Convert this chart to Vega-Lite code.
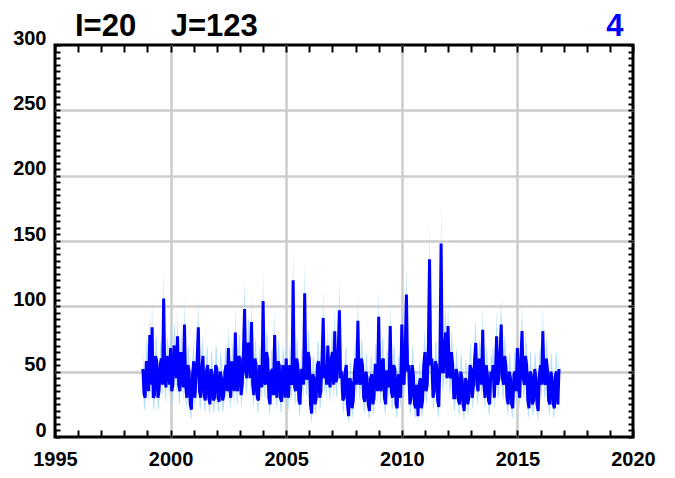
{
  "$schema": "https://vega.github.io/schema/vega-lite/v6.json",
  "width": 578,
  "height": 392,
  "autosize": {"type": "none"},
  "padding": {"left": 55, "top": 45, "right": 42, "bottom": 41},
  "background": "white",
  "config": {
    "view": {"stroke": "black", "strokeWidth": 3},
    "font": "Liberation Sans"
  },
  "title": {
    "text": "I=20\u00a0\u00a0\u00a0\u00a0J=123",
    "anchor": "start",
    "frame": "group",
    "dx": 20,
    "offset": -57,
    "baseline": "alphabetic",
    "fontSize": 31,
    "font": "Liberation Sans",
    "fontWeight": "bold",
    "color": "black"
  },
  "data": {
    "values": [
      {"t":1998.8,"v":52,"lo":38,"hi":68},{"t":1998.85,"v":33,"lo":22,"hi":46},{"t":1998.9,"v":30,"lo":20,"hi":43},{"t":1998.95,"v":58,"lo":42,"hi":75},
      {"t":1999.0,"v":55,"lo":40,"hi":71},{"t":1999.05,"v":35,"lo":24,"hi":48},{"t":1999.1,"v":78,"lo":58,"hi":98},{"t":1999.15,"v":40,"lo":28,"hi":54},{"t":1999.2,"v":84,"lo":63,"hi":105},{"t":1999.25,"v":30,"lo":20,"hi":43},{"t":1999.3,"v":32,"lo":22,"hi":45},{"t":1999.35,"v":62,"lo":46,"hi":79},{"t":1999.4,"v":58,"lo":42,"hi":75},{"t":1999.45,"v":30,"lo":20,"hi":43},{"t":1999.5,"v":35,"lo":24,"hi":48},{"t":1999.55,"v":55,"lo":40,"hi":71},{"t":1999.6,"v":60,"lo":44,"hi":77},{"t":1999.65,"v":40,"lo":28,"hi":54},{"t":1999.7,"v":106,"lo":81,"hi":130},{"t":1999.75,"v":45,"lo":32,"hi":60},{"t":1999.8,"v":38,"lo":26,"hi":52},{"t":1999.85,"v":62,"lo":46,"hi":79},{"t":1999.9,"v":55,"lo":40,"hi":71},{"t":1999.95,"v":40,"lo":28,"hi":54},
      {"t":2000.0,"v":68,"lo":50,"hi":86},{"t":2000.05,"v":35,"lo":24,"hi":48},{"t":2000.1,"v":40,"lo":28,"hi":54},{"t":2000.15,"v":70,"lo":52,"hi":89},{"t":2000.2,"v":62,"lo":46,"hi":79},{"t":2000.25,"v":45,"lo":32,"hi":60},{"t":2000.3,"v":77,"lo":58,"hi":97},{"t":2000.35,"v":40,"lo":28,"hi":54},{"t":2000.4,"v":35,"lo":24,"hi":48},{"t":2000.45,"v":65,"lo":48,"hi":83},{"t":2000.5,"v":55,"lo":40,"hi":71},{"t":2000.55,"v":38,"lo":26,"hi":52},{"t":2000.6,"v":86,"lo":65,"hi":107},{"t":2000.65,"v":40,"lo":28,"hi":54},{"t":2000.7,"v":30,"lo":20,"hi":43},{"t":2000.75,"v":55,"lo":40,"hi":71},{"t":2000.8,"v":50,"lo":36,"hi":66},{"t":2000.85,"v":25,"lo":16,"hi":37},{"t":2000.9,"v":21,"lo":13,"hi":32},{"t":2000.95,"v":48,"lo":34,"hi":63},
      {"t":2001.0,"v":58,"lo":42,"hi":75},{"t":2001.05,"v":30,"lo":20,"hi":43},{"t":2001.1,"v":45,"lo":32,"hi":60},{"t":2001.15,"v":60,"lo":44,"hi":77},{"t":2001.2,"v":84,"lo":63,"hi":105},{"t":2001.25,"v":35,"lo":24,"hi":48},{"t":2001.3,"v":30,"lo":20,"hi":43},{"t":2001.35,"v":52,"lo":38,"hi":68},{"t":2001.4,"v":62,"lo":46,"hi":79},{"t":2001.45,"v":32,"lo":22,"hi":45},{"t":2001.5,"v":28,"lo":18,"hi":40},{"t":2001.55,"v":50,"lo":36,"hi":66},{"t":2001.6,"v":55,"lo":40,"hi":71},{"t":2001.65,"v":30,"lo":20,"hi":43},{"t":2001.7,"v":25,"lo":16,"hi":37},{"t":2001.75,"v":52,"lo":38,"hi":68},{"t":2001.8,"v":48,"lo":34,"hi":63},{"t":2001.85,"v":28,"lo":18,"hi":40},{"t":2001.9,"v":30,"lo":20,"hi":43},{"t":2001.95,"v":55,"lo":40,"hi":71},
      {"t":2002.0,"v":52,"lo":38,"hi":68},{"t":2002.05,"v":30,"lo":20,"hi":43},{"t":2002.1,"v":27,"lo":18,"hi":39},{"t":2002.15,"v":50,"lo":36,"hi":66},{"t":2002.2,"v":45,"lo":32,"hi":60},{"t":2002.25,"v":28,"lo":18,"hi":40},{"t":2002.3,"v":32,"lo":22,"hi":45},{"t":2002.35,"v":50,"lo":36,"hi":66},{"t":2002.4,"v":55,"lo":40,"hi":71},{"t":2002.45,"v":35,"lo":24,"hi":48},{"t":2002.5,"v":68,"lo":50,"hi":86},{"t":2002.55,"v":40,"lo":28,"hi":54},{"t":2002.6,"v":30,"lo":20,"hi":43},{"t":2002.65,"v":58,"lo":42,"hi":75},{"t":2002.7,"v":50,"lo":36,"hi":66},{"t":2002.75,"v":35,"lo":24,"hi":48},{"t":2002.8,"v":80,"lo":60,"hi":100},{"t":2002.85,"v":40,"lo":28,"hi":54},{"t":2002.9,"v":35,"lo":24,"hi":48},{"t":2002.95,"v":62,"lo":46,"hi":79},
      {"t":2003.0,"v":60,"lo":44,"hi":77},{"t":2003.05,"v":32,"lo":22,"hi":45},{"t":2003.1,"v":40,"lo":28,"hi":54},{"t":2003.15,"v":65,"lo":48,"hi":83},{"t":2003.2,"v":98,"lo":74,"hi":121},{"t":2003.25,"v":50,"lo":36,"hi":66},{"t":2003.3,"v":45,"lo":32,"hi":60},{"t":2003.35,"v":72,"lo":54,"hi":91},{"t":2003.4,"v":70,"lo":52,"hi":89},{"t":2003.45,"v":45,"lo":32,"hi":60},{"t":2003.5,"v":88,"lo":66,"hi":109},{"t":2003.55,"v":40,"lo":28,"hi":54},{"t":2003.6,"v":32,"lo":22,"hi":45},{"t":2003.65,"v":60,"lo":44,"hi":77},{"t":2003.7,"v":55,"lo":40,"hi":71},{"t":2003.75,"v":30,"lo":20,"hi":43},{"t":2003.8,"v":28,"lo":18,"hi":40},{"t":2003.85,"v":55,"lo":40,"hi":71},{"t":2003.9,"v":50,"lo":36,"hi":66},{"t":2003.95,"v":38,"lo":26,"hi":52},
      {"t":2004.0,"v":104,"lo":79,"hi":128},{"t":2004.05,"v":45,"lo":32,"hi":60},{"t":2004.1,"v":40,"lo":28,"hi":54},{"t":2004.15,"v":65,"lo":48,"hi":83},{"t":2004.2,"v":60,"lo":44,"hi":77},{"t":2004.25,"v":30,"lo":20,"hi":43},{"t":2004.3,"v":25,"lo":16,"hi":37},{"t":2004.35,"v":50,"lo":36,"hi":66},{"t":2004.4,"v":52,"lo":38,"hi":68},{"t":2004.45,"v":32,"lo":22,"hi":45},{"t":2004.5,"v":78,"lo":58,"hi":98},{"t":2004.55,"v":40,"lo":28,"hi":54},{"t":2004.6,"v":30,"lo":20,"hi":43},{"t":2004.65,"v":58,"lo":42,"hi":75},{"t":2004.7,"v":55,"lo":40,"hi":71},{"t":2004.75,"v":30,"lo":20,"hi":43},{"t":2004.8,"v":27,"lo":18,"hi":39},{"t":2004.85,"v":55,"lo":40,"hi":71},{"t":2004.9,"v":48,"lo":34,"hi":63},{"t":2004.95,"v":30,"lo":20,"hi":43},
      {"t":2005.0,"v":60,"lo":44,"hi":77},{"t":2005.05,"v":35,"lo":24,"hi":48},{"t":2005.1,"v":30,"lo":20,"hi":43},{"t":2005.15,"v":55,"lo":40,"hi":71},{"t":2005.2,"v":45,"lo":32,"hi":60},{"t":2005.25,"v":40,"lo":28,"hi":54},{"t":2005.3,"v":120,"lo":92,"hi":146},{"t":2005.35,"v":40,"lo":28,"hi":54},{"t":2005.4,"v":35,"lo":24,"hi":48},{"t":2005.45,"v":60,"lo":44,"hi":77},{"t":2005.5,"v":55,"lo":40,"hi":71},{"t":2005.55,"v":28,"lo":18,"hi":40},{"t":2005.6,"v":25,"lo":16,"hi":37},{"t":2005.65,"v":52,"lo":38,"hi":68},{"t":2005.7,"v":50,"lo":36,"hi":66},{"t":2005.75,"v":40,"lo":28,"hi":54},{"t":2005.8,"v":110,"lo":84,"hi":135},{"t":2005.85,"v":45,"lo":32,"hi":60},{"t":2005.9,"v":45,"lo":32,"hi":60},{"t":2005.95,"v":65,"lo":48,"hi":83},
      {"t":2006.0,"v":60,"lo":44,"hi":77},{"t":2006.05,"v":25,"lo":16,"hi":37},{"t":2006.1,"v":18,"lo":10,"hi":29},{"t":2006.15,"v":48,"lo":34,"hi":63},{"t":2006.2,"v":45,"lo":32,"hi":60},{"t":2006.25,"v":25,"lo":16,"hi":37},{"t":2006.3,"v":30,"lo":20,"hi":43},{"t":2006.35,"v":55,"lo":40,"hi":71},{"t":2006.4,"v":58,"lo":42,"hi":75},{"t":2006.45,"v":30,"lo":20,"hi":43},{"t":2006.5,"v":35,"lo":24,"hi":48},{"t":2006.55,"v":60,"lo":44,"hi":77},{"t":2006.6,"v":91,"lo":69,"hi":113},{"t":2006.65,"v":45,"lo":32,"hi":60},{"t":2006.7,"v":55,"lo":40,"hi":71},{"t":2006.75,"v":40,"lo":28,"hi":54},{"t":2006.8,"v":70,"lo":52,"hi":89},{"t":2006.85,"v":45,"lo":32,"hi":60},{"t":2006.9,"v":38,"lo":26,"hi":52},{"t":2006.95,"v":60,"lo":44,"hi":77},
      {"t":2007.0,"v":65,"lo":48,"hi":83},{"t":2007.05,"v":40,"lo":28,"hi":54},{"t":2007.1,"v":81,"lo":61,"hi":101},{"t":2007.15,"v":42,"lo":30,"hi":56},{"t":2007.2,"v":45,"lo":32,"hi":60},{"t":2007.25,"v":65,"lo":48,"hi":83},{"t":2007.3,"v":97,"lo":74,"hi":120},{"t":2007.35,"v":45,"lo":32,"hi":60},{"t":2007.4,"v":50,"lo":36,"hi":66},{"t":2007.45,"v":28,"lo":18,"hi":40},{"t":2007.5,"v":30,"lo":20,"hi":43},{"t":2007.55,"v":50,"lo":36,"hi":66},{"t":2007.6,"v":55,"lo":40,"hi":71},{"t":2007.65,"v":25,"lo":16,"hi":37},{"t":2007.7,"v":16,"lo":9,"hi":26},{"t":2007.75,"v":45,"lo":32,"hi":60},{"t":2007.8,"v":42,"lo":30,"hi":56},{"t":2007.85,"v":22,"lo":14,"hi":33},{"t":2007.9,"v":28,"lo":18,"hi":40},{"t":2007.95,"v":50,"lo":36,"hi":66},
      {"t":2008.0,"v":60,"lo":44,"hi":77},{"t":2008.05,"v":40,"lo":28,"hi":54},{"t":2008.1,"v":89,"lo":67,"hi":110},{"t":2008.15,"v":45,"lo":32,"hi":60},{"t":2008.2,"v":40,"lo":28,"hi":54},{"t":2008.25,"v":60,"lo":44,"hi":77},{"t":2008.3,"v":55,"lo":40,"hi":71},{"t":2008.35,"v":30,"lo":20,"hi":43},{"t":2008.4,"v":27,"lo":18,"hi":39},{"t":2008.45,"v":50,"lo":36,"hi":66},{"t":2008.5,"v":45,"lo":32,"hi":60},{"t":2008.55,"v":25,"lo":16,"hi":37},{"t":2008.6,"v":20,"lo":12,"hi":31},{"t":2008.65,"v":45,"lo":32,"hi":60},{"t":2008.7,"v":48,"lo":34,"hi":63},{"t":2008.75,"v":25,"lo":16,"hi":37},{"t":2008.8,"v":30,"lo":20,"hi":43},{"t":2008.85,"v":55,"lo":40,"hi":71},{"t":2008.9,"v":55,"lo":40,"hi":71},{"t":2008.95,"v":35,"lo":24,"hi":48},
      {"t":2009.0,"v":92,"lo":70,"hi":114},{"t":2009.05,"v":40,"lo":28,"hi":54},{"t":2009.1,"v":35,"lo":24,"hi":48},{"t":2009.15,"v":58,"lo":42,"hi":75},{"t":2009.2,"v":60,"lo":44,"hi":77},{"t":2009.25,"v":30,"lo":20,"hi":43},{"t":2009.3,"v":25,"lo":16,"hi":37},{"t":2009.35,"v":50,"lo":36,"hi":66},{"t":2009.4,"v":50,"lo":36,"hi":66},{"t":2009.45,"v":38,"lo":26,"hi":52},{"t":2009.5,"v":85,"lo":64,"hi":106},{"t":2009.55,"v":35,"lo":24,"hi":48},{"t":2009.6,"v":30,"lo":20,"hi":43},{"t":2009.65,"v":55,"lo":40,"hi":71},{"t":2009.7,"v":52,"lo":38,"hi":68},{"t":2009.75,"v":25,"lo":16,"hi":37},{"t":2009.8,"v":22,"lo":14,"hi":33},{"t":2009.85,"v":48,"lo":34,"hi":63},{"t":2009.9,"v":45,"lo":32,"hi":60},{"t":2009.95,"v":30,"lo":20,"hi":43},
      {"t":2010.0,"v":86,"lo":65,"hi":107},{"t":2010.05,"v":45,"lo":32,"hi":60},{"t":2010.1,"v":40,"lo":28,"hi":54},{"t":2010.15,"v":70,"lo":52,"hi":89},{"t":2010.2,"v":109,"lo":83,"hi":133},{"t":2010.25,"v":50,"lo":36,"hi":66},{"t":2010.3,"v":55,"lo":40,"hi":71},{"t":2010.35,"v":25,"lo":16,"hi":37},{"t":2010.4,"v":30,"lo":20,"hi":43},{"t":2010.45,"v":55,"lo":40,"hi":71},{"t":2010.5,"v":48,"lo":34,"hi":63},{"t":2010.55,"v":25,"lo":16,"hi":37},{"t":2010.6,"v":22,"lo":14,"hi":33},{"t":2010.65,"v":40,"lo":28,"hi":54},{"t":2010.7,"v":16,"lo":9,"hi":26},{"t":2010.75,"v":40,"lo":28,"hi":54},{"t":2010.8,"v":45,"lo":32,"hi":60},{"t":2010.85,"v":22,"lo":14,"hi":33},{"t":2010.9,"v":28,"lo":18,"hi":40},{"t":2010.95,"v":55,"lo":40,"hi":71},
      {"t":2011.0,"v":65,"lo":48,"hi":83},{"t":2011.05,"v":35,"lo":24,"hi":48},{"t":2011.1,"v":40,"lo":28,"hi":54},{"t":2011.15,"v":70,"lo":52,"hi":89},{"t":2011.2,"v":136,"lo":105,"hi":164},{"t":2011.25,"v":55,"lo":40,"hi":71},{"t":2011.3,"v":60,"lo":44,"hi":77},{"t":2011.35,"v":30,"lo":20,"hi":43},{"t":2011.4,"v":35,"lo":24,"hi":48},{"t":2011.45,"v":58,"lo":42,"hi":75},{"t":2011.5,"v":55,"lo":40,"hi":71},{"t":2011.55,"v":28,"lo":18,"hi":40},{"t":2011.6,"v":23,"lo":14,"hi":34},{"t":2011.65,"v":60,"lo":44,"hi":77},{"t":2011.7,"v":148,"lo":114,"hi":178},{"t":2011.75,"v":50,"lo":36,"hi":66},{"t":2011.8,"v":50,"lo":36,"hi":66},{"t":2011.85,"v":70,"lo":52,"hi":89},{"t":2011.9,"v":80,"lo":60,"hi":100},{"t":2011.95,"v":45,"lo":32,"hi":60},
      {"t":2012.0,"v":85,"lo":64,"hi":106},{"t":2012.05,"v":50,"lo":36,"hi":66},{"t":2012.1,"v":45,"lo":32,"hi":60},{"t":2012.15,"v":65,"lo":48,"hi":83},{"t":2012.2,"v":55,"lo":40,"hi":71},{"t":2012.25,"v":30,"lo":20,"hi":43},{"t":2012.3,"v":30,"lo":20,"hi":43},{"t":2012.35,"v":52,"lo":38,"hi":68},{"t":2012.4,"v":48,"lo":34,"hi":63},{"t":2012.45,"v":28,"lo":18,"hi":40},{"t":2012.5,"v":25,"lo":16,"hi":37},{"t":2012.55,"v":50,"lo":36,"hi":66},{"t":2012.6,"v":45,"lo":32,"hi":60},{"t":2012.65,"v":25,"lo":16,"hi":37},{"t":2012.7,"v":20,"lo":12,"hi":31},{"t":2012.75,"v":45,"lo":32,"hi":60},{"t":2012.8,"v":42,"lo":30,"hi":56},{"t":2012.85,"v":25,"lo":16,"hi":37},{"t":2012.9,"v":30,"lo":20,"hi":43},{"t":2012.95,"v":55,"lo":40,"hi":71},
      {"t":2013.0,"v":52,"lo":38,"hi":68},{"t":2013.05,"v":30,"lo":20,"hi":43},{"t":2013.1,"v":40,"lo":28,"hi":54},{"t":2013.15,"v":60,"lo":44,"hi":77},{"t":2013.2,"v":72,"lo":54,"hi":91},{"t":2013.25,"v":40,"lo":28,"hi":54},{"t":2013.3,"v":35,"lo":24,"hi":48},{"t":2013.35,"v":60,"lo":44,"hi":77},{"t":2013.4,"v":55,"lo":40,"hi":71},{"t":2013.45,"v":40,"lo":28,"hi":54},{"t":2013.5,"v":82,"lo":62,"hi":102},{"t":2013.55,"v":40,"lo":28,"hi":54},{"t":2013.6,"v":30,"lo":20,"hi":43},{"t":2013.65,"v":55,"lo":40,"hi":71},{"t":2013.7,"v":48,"lo":34,"hi":63},{"t":2013.75,"v":28,"lo":18,"hi":40},{"t":2013.8,"v":25,"lo":16,"hi":37},{"t":2013.85,"v":50,"lo":36,"hi":66},{"t":2013.9,"v":45,"lo":32,"hi":60},{"t":2013.95,"v":55,"lo":40,"hi":71},
      {"t":2014.0,"v":30,"lo":20,"hi":43},{"t":2014.05,"v":50,"lo":36,"hi":66},{"t":2014.1,"v":77,"lo":58,"hi":97},{"t":2014.15,"v":40,"lo":28,"hi":54},{"t":2014.2,"v":45,"lo":32,"hi":60},{"t":2014.25,"v":65,"lo":48,"hi":83},{"t":2014.3,"v":86,"lo":65,"hi":107},{"t":2014.35,"v":45,"lo":32,"hi":60},{"t":2014.4,"v":40,"lo":28,"hi":54},{"t":2014.45,"v":62,"lo":46,"hi":79},{"t":2014.5,"v":55,"lo":40,"hi":71},{"t":2014.55,"v":30,"lo":20,"hi":43},{"t":2014.6,"v":25,"lo":16,"hi":37},{"t":2014.65,"v":50,"lo":36,"hi":66},{"t":2014.7,"v":45,"lo":32,"hi":60},{"t":2014.75,"v":25,"lo":16,"hi":37},{"t":2014.8,"v":22,"lo":14,"hi":33},{"t":2014.85,"v":48,"lo":34,"hi":63},{"t":2014.9,"v":50,"lo":36,"hi":66},{"t":2014.95,"v":35,"lo":24,"hi":48},
      {"t":2015.0,"v":68,"lo":50,"hi":86},{"t":2015.05,"v":40,"lo":28,"hi":54},{"t":2015.1,"v":30,"lo":20,"hi":43},{"t":2015.15,"v":60,"lo":44,"hi":77},{"t":2015.2,"v":81,"lo":61,"hi":101},{"t":2015.25,"v":45,"lo":32,"hi":60},{"t":2015.3,"v":40,"lo":28,"hi":54},{"t":2015.35,"v":62,"lo":46,"hi":79},{"t":2015.4,"v":55,"lo":40,"hi":71},{"t":2015.45,"v":28,"lo":18,"hi":40},{"t":2015.5,"v":22,"lo":14,"hi":33},{"t":2015.55,"v":50,"lo":36,"hi":66},{"t":2015.6,"v":48,"lo":34,"hi":63},{"t":2015.65,"v":25,"lo":16,"hi":37},{"t":2015.7,"v":28,"lo":18,"hi":40},{"t":2015.75,"v":52,"lo":38,"hi":68},{"t":2015.8,"v":45,"lo":32,"hi":60},{"t":2015.85,"v":25,"lo":16,"hi":37},{"t":2015.9,"v":20,"lo":12,"hi":31},{"t":2015.95,"v":48,"lo":34,"hi":63},
      {"t":2016.0,"v":55,"lo":40,"hi":71},{"t":2016.05,"v":40,"lo":28,"hi":54},{"t":2016.1,"v":81,"lo":61,"hi":101},{"t":2016.15,"v":45,"lo":32,"hi":60},{"t":2016.2,"v":40,"lo":28,"hi":54},{"t":2016.25,"v":60,"lo":44,"hi":77},{"t":2016.3,"v":52,"lo":38,"hi":68},{"t":2016.35,"v":28,"lo":18,"hi":40},{"t":2016.4,"v":25,"lo":16,"hi":37},{"t":2016.45,"v":50,"lo":36,"hi":66},{"t":2016.5,"v":45,"lo":32,"hi":60},{"t":2016.55,"v":25,"lo":16,"hi":37},{"t":2016.6,"v":22,"lo":14,"hi":33},{"t":2016.65,"v":48,"lo":34,"hi":63},{"t":2016.7,"v":50,"lo":36,"hi":66},{"t":2016.75,"v":25,"lo":16,"hi":37},{"t":2016.8,"v":52,"lo":38,"hi":68}
    ]
  },
  "layer": [
    {
      "mark": {"type": "area", "color": "#9ad3f5", "opacity": 0.7},
      "encoding": {
        "x": {
          "field": "t", "type": "quantitative",
          "scale": {"domain": [1995, 2020], "nice": false, "zero": false},
          "axis": {
            "orient": "bottom", "title": null,
            "values": [1995,1996,1997,1998,1999,2000,2001,2002,2003,2004,2005,2006,2007,2008,2009,2010,2011,2012,2013,2014,2015,2016,2017,2018,2019,2020],
            "format": "d",
            "labelExpr": "datum.value % 5 === 0 ? datum.label : ''",
            "labelFont": "Liberation Sans", "labelFontSize": 20, "labelFontWeight": "bold", "labelColor": "black",
            "labelPadding": 19, "labelFlush": false, "labelOverlap": false,
            "tickSize": -7, "tickWidth": 2, "tickColor": "black",
            "domain": false,
            "grid": true, "gridColor": "#cccccc", "gridWidth": 2.5,
            "gridOpacity": {"condition": {"test": "datum.value % 5 === 0 && datum.value > 1995 && datum.value < 2020", "value": 1}, "value": 0}
          }
        },
        "y": {
          "field": "lo", "type": "quantitative",
          "scale": {"domain": [0, 300], "nice": false},
          "axis": {
            "orient": "left", "title": null,
            "values": [0,5,10,15,20,25,30,35,40,45,50,55,60,65,70,75,80,85,90,95,100,105,110,115,120,125,130,135,140,145,150,155,160,165,170,175,180,185,190,195,200,205,210,215,220,225,230,235,240,245,250,255,260,265,270,275,280,285,290,295,300],
            "labelExpr": "datum.value % 50 === 0 ? datum.label : ''",
            "labelFont": "Liberation Sans", "labelFontSize": 20, "labelFontWeight": "bold", "labelColor": "black",
            "labelBaseline": "alphabetic", "labelPadding": 14, "labelOffset": -1, "labelFlush": false, "labelOverlap": false,
            "tickSize": -5, "tickWidth": 2, "tickColor": "black",
            "domain": false,
            "grid": true, "gridColor": "#cccccc", "gridWidth": 2.5,
            "gridOpacity": {"condition": {"test": "datum.value % 50 === 0 && datum.value > 0 && datum.value < 300", "value": 1}, "value": 0}
          }
        },
        "y2": {"field": "hi"}
      }
    },
    {
      "mark": {"type": "line", "color": "#0000ff", "strokeWidth": 3},
      "encoding": {
        "x": {
          "field": "t", "type": "quantitative",
          "scale": {"domain": [1995, 2020], "nice": false, "zero": false},
          "axis": {
            "orient": "top",
            "title": "4",
            "titleColor": "#0000ff", "titleFont": "Liberation Sans", "titleFontSize": 31, "titleFontWeight": "bold",
            "titleAnchor": "end", "titleAlign": "right", "titleBaseline": "alphabetic",
            "titleX": 568, "titleY": -10,
            "values": [1995,1996,1997,1998,1999,2000,2001,2002,2003,2004,2005,2006,2007,2008,2009,2010,2011,2012,2013,2014,2015,2016,2017,2018,2019,2020],
            "labels": false,
            "tickSize": -7, "tickWidth": 2, "tickColor": "black",
            "domain": false, "grid": false
          }
        },
        "y": {
          "field": "v", "type": "quantitative",
          "scale": {"domain": [0, 300], "nice": false},
          "axis": {
            "orient": "right", "title": null,
            "values": [0,5,10,15,20,25,30,35,40,45,50,55,60,65,70,75,80,85,90,95,100,105,110,115,120,125,130,135,140,145,150,155,160,165,170,175,180,185,190,195,200,205,210,215,220,225,230,235,240,245,250,255,260,265,270,275,280,285,290,295,300],
            "labels": false,
            "tickSize": -5, "tickWidth": 2, "tickColor": "black",
            "domain": false, "grid": false
          }
        }
      }
    }
  ],
  "resolve": {"axis": {"x": "independent", "y": "independent"}}
}
